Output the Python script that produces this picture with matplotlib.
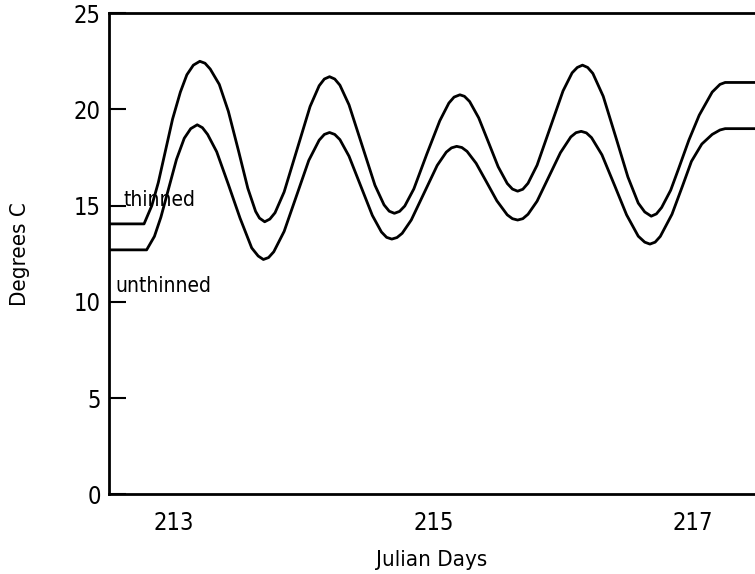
import matplotlib
matplotlib.use("Agg")
import matplotlib.pyplot as plt

plt.rcParams["font.family"] = ["DejaVu Sans"]
plt.rcParams["font.stretch"] = "condensed"

# Julian day / temperature (deg C)
THINNED_DAY = [212.50, 212.77, 212.83, 212.88, 212.93, 212.99, 213.05, 213.10, 213.15, 213.20,
               213.24, 213.28, 213.35, 213.42, 213.50, 213.57, 213.63, 213.66, 213.70, 213.74,
               213.78, 213.85, 213.95, 214.05, 214.12, 214.16, 214.20, 214.24,
               214.28, 214.35, 214.45, 214.55, 214.62, 214.66, 214.70, 214.74,
               214.78, 214.85, 214.95, 215.05, 215.12, 215.16, 215.205, 215.24,
               215.28, 215.35, 215.43, 215.50, 215.57, 215.61, 215.65, 215.69,
               215.73, 215.80, 215.90, 216.00, 216.07, 216.11, 216.15, 216.19,
               216.23, 216.31, 216.41, 216.50, 216.58, 216.63, 216.68, 216.72,
               216.76, 216.83, 216.89, 216.97, 217.05, 217.15, 217.21, 217.25, 217.50]
THINNED_TEMP = [14.05, 14.05, 15.0, 16.2, 17.7, 19.5, 20.9, 21.8, 22.3, 22.5,
                22.4, 22.1, 21.3, 19.9, 17.8, 15.9, 14.7, 14.35, 14.16, 14.3,
                14.63, 15.71, 17.93, 20.15, 21.23, 21.58, 21.7, 21.58,
                21.26, 20.24, 18.15, 16.06, 15.04, 14.71, 14.6, 14.7,
                14.98, 15.87, 17.68, 19.41, 20.33, 20.64, 20.76, 20.68,
                20.41, 19.56, 18.21, 17.02, 16.15, 15.86, 15.75, 15.85,
                16.16, 17.10, 19.03, 20.96, 21.90, 22.18, 22.3, 22.18,
                21.87, 20.68, 18.49, 16.49, 15.13, 14.67, 14.45, 14.57,
                14.9, 15.8, 16.9, 18.4, 19.7, 20.9, 21.3, 21.4, 21.4]

UNTHINNED_DAY = [212.50, 212.79, 212.85, 212.90, 212.96, 213.02, 213.08, 213.13, 213.18, 213.22,
                 213.26, 213.33, 213.42, 213.51, 213.60, 213.65, 213.69, 213.73,
                 213.77, 213.85, 213.95, 214.04, 214.12, 214.16, 214.20, 214.24,
                 214.28, 214.35, 214.44, 214.53, 214.60, 214.64, 214.68, 214.72,
                 214.76, 214.83, 214.93, 215.03, 215.10, 215.14, 215.18, 215.22,
                 215.26, 215.33, 215.41, 215.49, 215.57, 215.61, 215.65, 215.69,
                 215.73, 215.80, 215.89, 215.98, 216.06, 216.10, 216.14, 216.18,
                 216.22, 216.30, 216.40, 216.49, 216.58, 216.63, 216.67, 216.71,
                 216.75, 216.84, 216.92, 216.99, 217.07, 217.15, 217.21, 217.25, 217.50]
UNTHINNED_TEMP = [12.7, 12.7, 13.4, 14.4, 15.9, 17.4, 18.5, 19.0, 19.2, 19.05,
                  18.7, 17.8, 16.1, 14.35, 12.8, 12.38, 12.2, 12.3,
                  12.6, 13.66, 15.6, 17.35, 18.4, 18.7, 18.8, 18.7,
                  18.43, 17.57, 16.03, 14.49, 13.63, 13.35, 13.26, 13.34,
                  13.56, 14.25, 15.67, 17.09, 17.78, 18.0, 18.08, 18.02,
                  17.82, 17.2, 16.23, 15.25, 14.52, 14.32, 14.25, 14.32,
                  14.55, 15.23, 16.49, 17.75, 18.57, 18.79, 18.86, 18.78,
                  18.53, 17.64, 16.01, 14.52, 13.41, 13.1, 13.0, 13.1,
                  13.4, 14.55, 16.0, 17.3, 18.2, 18.7, 18.93, 19.0, 19.0]

X_TICKS = [213, 215, 217]
Y_TICKS = [0, 5, 10, 15, 20, 25]


def main() -> None:
    fig = plt.figure(figsize=(7.55, 5.74), dpi=100)
    ax = fig.add_axes([0.1444, 0.139, 0.8556, 0.838])

    ax.plot(THINNED_DAY, THINNED_TEMP, color="black", lw=2.0, solid_joinstyle="round")
    ax.plot(UNTHINNED_DAY, UNTHINNED_TEMP, color="black", lw=2.0, solid_joinstyle="round")

    ax.text(212.61, 15.3, "thinned", fontsize=15, va="center", ha="left")
    ax.text(212.55, 10.8, "unthinned", fontsize=15, va="center", ha="left")

    ax.set_xlim(212.5, 217.48)
    ax.set_ylim(0, 25)
    ax.set_xticks(X_TICKS)
    ax.set_yticks(Y_TICKS)
    ax.tick_params(axis="y", direction="in", length=12, width=1.5, pad=6, labelsize=17)
    ax.tick_params(axis="x", length=0, pad=12, labelsize=17)

    for side in ("left", "bottom", "top"):
        ax.spines[side].set_linewidth(2.0)
    ax.spines["right"].set_visible(False)

    ax.set_xlabel("Julian Days", fontsize=16, va="center")
    ax.set_ylabel("Degrees C", fontsize=16, va="center")
    ax.xaxis.set_label_coords(0.5, -0.137)
    ax.yaxis.set_label_coords(-0.138, 0.5)

    fig.savefig("out.png", dpi=100)
    plt.close(fig)


if __name__ == "__main__":
    main()
